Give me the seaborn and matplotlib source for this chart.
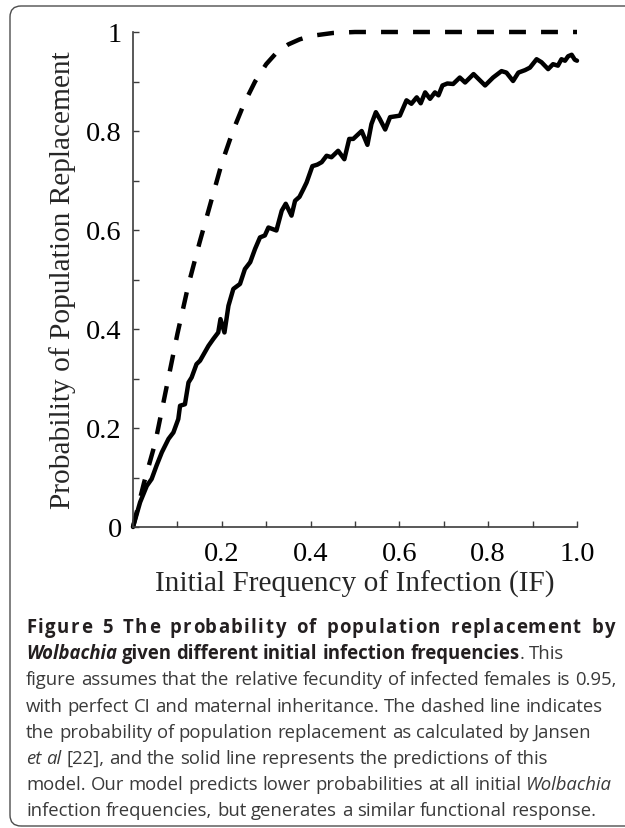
import matplotlib
matplotlib.use('Agg')
import matplotlib.pyplot as plt
from matplotlib.patches import FancyBboxPatch
from matplotlib.ticker import MultipleLocator
import seaborn as sns

# ===========================================================
# DATA
# ===========================================================
# Jansen et al. prediction (dashed)
IF_JANSEN = [0.0, 0.025, 0.05, 0.075, 0.1, 0.125, 0.15, 0.175, 0.2, 0.225,
             0.25, 0.275, 0.3, 0.325, 0.35, 0.375, 0.4, 0.45, 0.5, 0.6,
             0.7, 0.8, 0.9, 1.0]
P_JANSEN = [0.0, 0.09, 0.17, 0.28, 0.39, 0.49, 0.575, 0.655, 0.735, 0.80,
            0.855, 0.90, 0.935, 0.96, 0.975, 0.985, 0.992, 0.998, 1.0, 1.0,
            1.0, 1.0, 1.0, 1.0]

# this model (solid)
IF_MODEL = [0.0, 0.016, 0.031, 0.042, 0.053, 0.065, 0.080, 0.091, 0.102, 0.106,
            0.117, 0.125, 0.132, 0.143, 0.151, 0.170, 0.181, 0.192, 0.197, 0.206,
            0.215, 0.226, 0.241, 0.252, 0.264, 0.275, 0.286, 0.297, 0.305, 0.323,
            0.335, 0.344, 0.357, 0.365, 0.375, 0.384, 0.391, 0.404, 0.415, 0.425,
            0.436, 0.447, 0.462, 0.476, 0.487, 0.496, 0.515, 0.528, 0.537, 0.547,
            0.556, 0.568, 0.579, 0.601, 0.616, 0.627, 0.639, 0.648, 0.658, 0.669,
            0.680, 0.688, 0.697, 0.708, 0.721, 0.736, 0.748, 0.767, 0.793, 0.811,
            0.830, 0.841, 0.856, 0.868, 0.883, 0.894, 0.909, 0.920, 0.935, 0.946,
            0.957, 0.965, 0.973, 0.980, 0.988, 0.995, 1.0]
P_MODEL = [0.0, 0.05, 0.083, 0.097, 0.124, 0.151, 0.178, 0.191, 0.218, 0.245,
           0.248, 0.292, 0.302, 0.329, 0.336, 0.366, 0.38, 0.393, 0.42, 0.393,
           0.447, 0.481, 0.491, 0.521, 0.535, 0.562, 0.585, 0.589, 0.605, 0.599,
           0.639, 0.653, 0.629, 0.659, 0.667, 0.683, 0.696, 0.729, 0.732, 0.737,
           0.75, 0.747, 0.760, 0.743, 0.784, 0.784, 0.80, 0.772, 0.814, 0.838,
           0.824, 0.803, 0.828, 0.831, 0.862, 0.855, 0.868, 0.856, 0.878, 0.865,
           0.878, 0.872, 0.892, 0.896, 0.895, 0.908, 0.898, 0.915, 0.892, 0.908,
           0.921, 0.918, 0.901, 0.918, 0.923, 0.928, 0.945, 0.939, 0.925, 0.935,
           0.932, 0.945, 0.942, 0.951, 0.954, 0.944, 0.942]

X_TICKS = [0.0, 0.2, 0.4, 0.6, 0.8, 1.0]
X_TICK_LABELS = ["", "0.2", "0.4", "0.6", "0.8", "1.0"]
Y_TICKS = [0.0, 0.2, 0.4, 0.6, 0.8, 1.0]
Y_TICK_LABELS = ["0", "0.2", "0.4", "0.6", "0.8", "1"]

XLABEL = "Initial Frequency of Infection (IF)"
YLABEL = "Probability of Population Replacement"

# caption: one entry per printed line, (text, style) segments
CAPTION_HEAD = "Figure 5 The probability of population replacement by"
CAPTION_LINES = [
    [("Wolbachia", "bi"), (" given different initial infection frequencies", "b"), (". This", "r")],
    [("figure assumes that the relative fecundity of infected females is 0.95,", "r")],
    [("with perfect CI and maternal inheritance. The dashed line indicates", "r")],
    [("the probability of population replacement as calculated by Jansen", "r")],
    [("et al", "i"), (" [22], and the solid line represents the predictions of this", "r")],
    [("model. Our model predicts lower probabilities at all initial ", "r"), ("Wolbachia", "i")],
    [("infection frequencies, but generates a similar functional response.", "r")],
]

# ===========================================================
# LAYOUT
# ===========================================================
W, H = 625, 829
CAP_LEFT, CAP_RIGHT = 26, 615
CAP_BASE0, CAP_STEP = 633, 26.2
CAP_FONT = ['Open Sans', 'DejaVu Sans']
INK = '#3a3a3a'

sns.set_theme(style="white")
plt.rcParams['font.family'] = ['Liberation Serif', 'DejaVu Serif']

fig = plt.figure(figsize=(W / 100, H / 100), dpi=100)
ax = fig.add_axes([133 / W, 1 - 528 / H, 444 / W, 495 / H])

sns.lineplot(x=IF_JANSEN, y=P_JANSEN, ax=ax, color='black', lw=3.2,
             linestyle=(0, (3.8, 3.4)), dash_capstyle='butt',
             estimator=None, clip_on=False)
sns.lineplot(x=IF_MODEL, y=P_MODEL, ax=ax, color='black', lw=3.2,
             solid_joinstyle='round', solid_capstyle='round',
             estimator=None, clip_on=False)

ax.set_xlim(0, 1)
ax.set_ylim(0, 1)
ax.set_xticks(X_TICKS)
ax.set_xticklabels(X_TICK_LABELS)
ax.set_yticks(Y_TICKS)
ax.set_yticklabels(Y_TICK_LABELS)
ax.xaxis.set_minor_locator(MultipleLocator(0.1))
ax.yaxis.set_minor_locator(MultipleLocator(0.1))
ax.tick_params(which='both', direction='in', length=4, width=1,
               color='#3c3c3c', labelsize=20.5, labelcolor='black')
ax.tick_params(axis='x', which='both', pad=10, bottom=True)
ax.tick_params(axis='y', which='both', pad=8, left=True)
for s in ['top', 'right']:
    ax.spines[s].set_visible(False)
for s in ['left', 'bottom']:
    ax.spines[s].set_color('#3c3c3c')
    ax.spines[s].set_linewidth(1.2)

ax.set_xlabel(XLABEL, fontsize=21.2, va='center')
ax.xaxis.set_label_coords(0.5, -0.113)
ax.set_ylabel(YLABEL, fontsize=21.2, va='center')
ax.yaxis.set_label_coords(-0.159, 0.5)

# rounded frame around figure + caption (right side runs off the page)
frame = FancyBboxPatch((0.10, 0.02), 7.0, 8.20,
                       boxstyle="round,pad=0,rounding_size=0.11",
                       transform=fig.dpi_scale_trans, fill=False,
                       edgecolor='#4d4d4d', linewidth=1.0)
fig.patches.append(frame)

# ===========================================================
# CAPTION
# ===========================================================
STYLES = {
    'r': dict(fontweight='normal', fontstyle='normal', color=INK),
    'b': dict(fontweight='bold', fontstyle='normal', color='#231f20'),
    'i': dict(fontweight='normal', fontstyle='italic', color=INK),
    'bi': dict(fontweight='bold', fontstyle='italic', color='#231f20'),
}

fig.canvas.draw()
renderer = fig.canvas.get_renderer()


def measure(s, style, size):
    t = fig.text(0, 0, s, family=CAP_FONT, fontsize=size, **STYLES[style])
    w = t.get_window_extent(renderer).width
    t.remove()
    return w


def advance(s, style, size):
    # width including side bearings / spaces
    return measure("x" + s + "x", style, size) - measure("xx", style, size)


def tokens_of(segments):
    out, pending = [], False
    for text, style in segments:
        for i, word in enumerate(text.split(' ')):
            if word == '':
                continue
            out.append((word, style, i > 0 or pending))
            pending = False
        pending = text.endswith(' ')
    return out


# fit size so the full-width line 3 spans the column
base = 12.0
cap_size = base * (CAP_RIGHT - CAP_LEFT) / measure(CAPTION_LINES[1][0][0], 'r', base)
space_w = {k: advance(" ", k, cap_size) for k in STYLES}


def draw_line(tokens, y_px):
    x = CAP_LEFT
    for word, st, sp in tokens:
        if sp:
            x += space_w[st]
        fig.text(x / W, 1 - y_px / H, word, family=CAP_FONT, fontsize=cap_size,
                 ha='left', va='baseline', **STYLES[st])
        x += advance(word, st, cap_size)


def draw_tracked(text, style, y_px, word_weight=4.0):
    # justified heading: some letter spacing, more between words
    adv = [advance(c, style, cap_size) for c in text]
    weights = [word_weight / 2 if (c == ' ' or n == ' ') else 1.0
               for c, n in zip(text[:-1], text[1:])]
    slack = CAP_RIGHT - CAP_LEFT - sum(adv[:-1]) - measure(text[-1], style, cap_size)
    unit = slack / sum(weights)
    x = CAP_LEFT
    for k, (c, a) in enumerate(zip(text, adv)):
        if c != ' ':
            fig.text(x / W, 1 - y_px / H, c, family=CAP_FONT, fontsize=cap_size,
                     ha='left', va='baseline', **STYLES[style])
        if k < len(weights):
            x += a + unit * weights[k]


draw_tracked(CAPTION_HEAD, 'b', CAP_BASE0)
for i, line in enumerate(CAPTION_LINES, start=1):
    draw_line(tokens_of(line), CAP_BASE0 + i * CAP_STEP)

fig.savefig('out.png', dpi=100)
